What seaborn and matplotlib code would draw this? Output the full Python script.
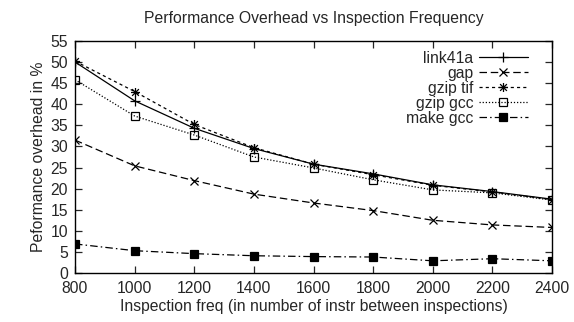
import matplotlib
matplotlib.use("Agg")
import matplotlib.pyplot as plt
import seaborn as sns
import pandas as pd
from matplotlib.path import Path

freq = [800, 1000, 1200, 1400, 1600, 1800, 2000, 2200, 2400]
link41a = [50.0, 40.8, 34.3, 29.5, 25.8, 23.5, 20.9, 19.3, 17.5]
gap = [31.5, 25.4, 21.9, 18.7, 16.6, 14.8, 12.5, 11.4, 10.8]
gzip_tif = [50.2, 43.0, 35.2, 29.7, 25.8, 23.3, 20.8, 19.2, 17.4]
gzip_gcc = [45.8, 37.2, 32.7, 27.5, 24.9, 22.1, 19.7, 19.0, 17.3]
make_gcc = [6.9, 5.3, 4.6, 4.1, 3.9, 3.8, 2.9, 3.4, 2.9]

series_names = ["link41a", "gap", "gzip tif", "gzip gcc", "make gcc"]
series_vals = [link41a, gap, gzip_tif, gzip_gcc, make_gcc]

sns.set_style("ticks")
plt.rcParams["font.family"] = ["Liberation Sans", "DejaVu Sans"]
FS = 11.3
plt.rcParams["font.size"] = FS

star = Path([(-1, 0), (1, 0), (0, -1), (0, 1), (-0.75, -0.75), (0.75, 0.75), (-0.75, 0.75), (0.75, -0.75)],
            [Path.MOVETO, Path.LINETO] * 4)

styles = {
    "link41a": dict(marker="+", linestyle="-", markersize=7, markerfacecolor="none"),
    "gap": dict(marker="x", linestyle=(0, (6, 3)), markersize=5.5, markerfacecolor="none"),
    "gzip tif": dict(marker=star, linestyle=(0, (2.5, 2.5)), markersize=6.5, markerfacecolor="none"),
    "gzip gcc": dict(marker="s", linestyle=(0, (1, 1.5)), markersize=6, markerfacecolor="none"),
    "make gcc": dict(marker="s", linestyle=(0, (6, 2.5, 1.2, 2.5)), markersize=6, markerfacecolor="black"),
}

fig = plt.figure(figsize=(5.74, 3.22), dpi=100)
ax = fig.add_axes([0.1307, 0.152, 0.831, 0.721])

for name, vals in zip(series_names, series_vals):
    df = pd.DataFrame({"freq": freq, "val": vals})
    st = styles[name]
    sns.lineplot(data=df, x="freq", y="val", ax=ax, color="black", linewidth=0.9,
                 label=name, markeredgecolor="black", markeredgewidth=0.9, **st)

ax.set_xlim(800, 2400)
ax.set_ylim(0, 55)
ax.set_xticks(freq)
ax.set_yticks(range(0, 56, 5))
ax.tick_params(direction="in", top=True, right=True, length=5, width=0.9, labelsize=FS)
ax.tick_params(axis="y", pad=5)
ax.tick_params(axis="x", pad=6, labeltop=False)
ax.tick_params(axis="y", labelright=False)
for s in ax.spines.values():
    s.set_visible(True)
    s.set_linewidth(1.0)
    s.set_color("black")

ax.set_title("Performance Overhead vs Inspection Frequency", fontsize=FS, pad=13)
ax.set_xlabel("Inspection freq (in number of instr between inspections)", fontsize=FS, labelpad=2)
ax.set_ylabel("Peformance overhead in %", fontsize=FS, labelpad=3)

leg = ax.legend(loc="upper right", markerfirst=False, frameon=False, handlelength=3.1,
                labelspacing=0.0, handletextpad=0.35, borderaxespad=0.0,
                bbox_to_anchor=(0.962, 0.985), fontsize=FS)

fig.savefig("out.png", dpi=100)
